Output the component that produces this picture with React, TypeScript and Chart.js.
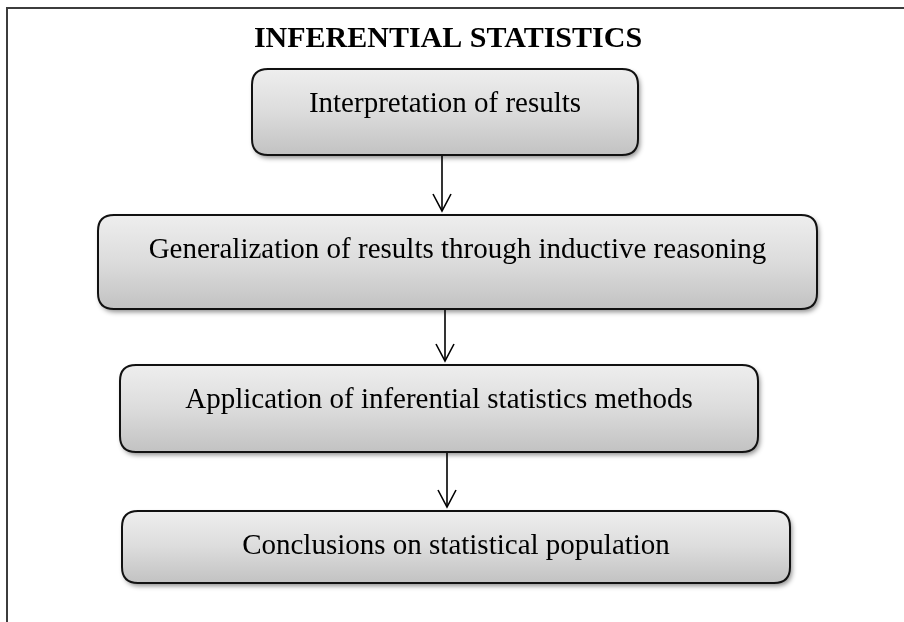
import React, { useEffect, useRef } from "react";
import { Chart, registerables } from "chart.js";

Chart.register(...registerables);

// ---- content ----
const chartTitle = "INFERENTIAL STATISTICS";
const steps = [
  "Interpretation of results",
  "Generalization of results through inductive reasoning",
  "Application of inferential statistics methods",
  "Conclusions on statistical population",
];

// ---- layout (in canvas units, mapped through the chart's scales) ----
const boxLeft = [252, 98, 120, 122];
const boxRight = [638, 817, 758, 790];
const boxTop = [69, 215, 365, 511];
const boxBottom = [155, 309, 452, 583];
const arrowX = [442, 445, 447];

const W = 904;
const H = 622;

function roundRect(ctx: CanvasRenderingContext2D, x: number, y: number, w: number, h: number, r: number) {
  ctx.beginPath();
  ctx.moveTo(x + r, y);
  ctx.lineTo(x + w - r, y);
  ctx.quadraticCurveTo(x + w, y, x + w, y + r);
  ctx.lineTo(x + w, y + h - r);
  ctx.quadraticCurveTo(x + w, y + h, x + w - r, y + h);
  ctx.lineTo(x + r, y + h);
  ctx.quadraticCurveTo(x, y + h, x, y + h - r);
  ctx.lineTo(x, y + r);
  ctx.quadraticCurveTo(x, y, x + r, y);
  ctx.closePath();
}

const flowPlugin = {
  id: "flow",
  afterDatasetsDraw(chart: any) {
    const ctx: CanvasRenderingContext2D = chart.ctx;
    const xs = chart.scales.x;
    const ys = chart.scales.y;
    const px = (v: number) => xs.getPixelForValue(v);
    const py = (v: number) => ys.getPixelForValue(v);

    ctx.save();
    // frame
    ctx.strokeStyle = "#3c3c3c";
    ctx.lineWidth = 2;
    ctx.beginPath();
    ctx.moveTo(px(7), py(H));
    ctx.lineTo(px(7), py(8));
    ctx.lineTo(px(W), py(8));
    ctx.stroke();

    // title
    ctx.fillStyle = "#000";
    ctx.font = "bold 30px 'Liberation Serif', 'Times New Roman', serif";
    ctx.textAlign = "center";
    ctx.textBaseline = "alphabetic";
    ctx.fillText(chartTitle, px(448), py(47));

    // boxes
    steps.forEach((label, i) => {
      const x0 = px(boxLeft[i]);
      const x1 = px(boxRight[i]);
      const y0 = py(boxTop[i]);
      const y1 = py(boxBottom[i]);
      const w = x1 - x0;
      const h = y1 - y0;
      const grad = ctx.createLinearGradient(0, y0, 0, y1);
      grad.addColorStop(0, "#eeeeee");
      grad.addColorStop(0.5, "#dcdcdc");
      grad.addColorStop(1, "#c2c2c2");
      ctx.save();
      ctx.shadowColor = "rgba(0,0,0,0.45)";
      ctx.shadowBlur = 5;
      ctx.shadowOffsetX = 2;
      ctx.shadowOffsetY = 3;
      roundRect(ctx, x0, y0, w, h, 16);
      ctx.fillStyle = grad;
      ctx.fill();
      ctx.restore();
      roundRect(ctx, x0, y0, w, h, 16);
      ctx.strokeStyle = "#111";
      ctx.lineWidth = 2;
      ctx.stroke();

      ctx.fillStyle = "#000";
      ctx.font = "29px 'Liberation Serif', 'Times New Roman', serif";
      ctx.textAlign = "center";
      ctx.fillText(label, (x0 + x1) / 2, y0 + 43);
    });

    // arrows
    ctx.strokeStyle = "#000";
    ctx.lineWidth = 1.6;
    for (let i = 0; i < steps.length - 1; i++) {
      const ax = px(arrowX[i]);
      const ya = py(boxBottom[i]) + 1;
      const yb = py(boxTop[i + 1]) - 4;
      ctx.beginPath();
      ctx.moveTo(ax, ya);
      ctx.lineTo(ax, yb);
      ctx.stroke();
      ctx.beginPath();
      ctx.moveTo(ax - 9, yb - 17);
      ctx.lineTo(ax, yb);
      ctx.lineTo(ax + 9, yb - 17);
      ctx.stroke();
    }
    ctx.restore();
  },
};

export default function App() {
  const ref = useRef<HTMLCanvasElement | null>(null);
  useEffect(() => {
    if (!ref.current) return;
    const chart = new Chart(ref.current, {
      type: "scatter",
      data: { datasets: [{ label: "steps", data: [] }] },
      options: {
        animation: false,
        responsive: false,
        maintainAspectRatio: false,
        layout: { padding: 0 },
        plugins: { legend: { display: false }, tooltip: { enabled: false }, title: { display: false } },
        scales: {
          x: { type: "linear", min: 0, max: W, display: false },
          y: { type: "linear", min: 0, max: H, reverse: true, display: false },
        },
      },
      plugins: [flowPlugin],
    });
    return () => chart.destroy();
  }, []);
  return (
    <div style={{ position: "fixed", left: 0, top: 0, width: W, height: H, background: "#fff" }}>
      <canvas ref={ref} width={W} height={H} style={{ width: W, height: H, display: "block" }} />
    </div>
  );
}
